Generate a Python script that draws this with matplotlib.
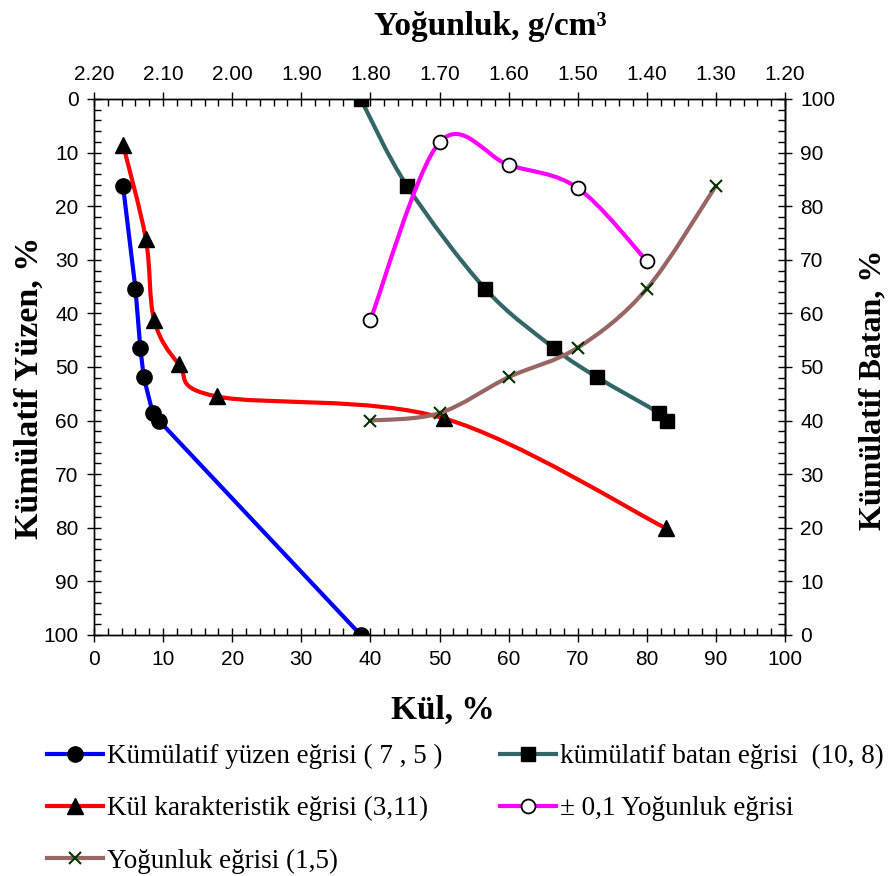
import matplotlib
matplotlib.use("Agg")
import matplotlib.pyplot as plt
import numpy as np
from matplotlib.lines import Line2D
from matplotlib.patches import PathPatch
from matplotlib.path import Path
from matplotlib.ticker import FormatStrFormatter, MultipleLocator

# Kümülatif yüzen (float): kül % vs cumulative float %
yuzen_kul = [4.2, 6.0, 6.7, 7.2, 8.5, 9.4, 38.6]
yuzen_pct = [16.2, 35.4, 46.4, 51.9, 58.6, 60.0, 100.0]

# Kümülatif batan (sink)
batan_kul = [38.6, 45.3, 56.6, 66.5, 72.8, 81.8, 82.9]
batan_pct = [0.0, 16.2, 35.4, 46.4, 51.9, 58.6, 60.0]

# Kül karakteristik eğrisi
karakteristik_kul = [4.2, 7.5, 8.7, 12.3, 17.8, 50.7, 82.8]
karakteristik_pct = [8.5, 26.1, 41.2, 49.5, 55.5, 59.6, 80.1]

# ± 0,1 yoğunluk (near-gravity) curve, against density on the top axis
yakin_yogunluk = [1.80, 1.70, 1.60, 1.50, 1.40]
yakin_pct = [41.2, 8.1, 12.3, 16.6, 30.2]

# Yoğunluk eğrisi
yogunluk = [1.80, 1.70, 1.60, 1.50, 1.40, 1.30]
yogunluk_pct = [60.0, 58.6, 51.9, 46.4, 35.4, 16.2]

W, H = 890, 876
SANS = "Liberation Sans"
SERIF = "Liberation Serif"
TICK_SIZE = 15

BLUE = "#0000ff"
TEAL = "#336666"
RED = "#ff0000"
MAGENTA = "#ff00ff"
BROWN = "#996666"
CROSS = "#003300"
LW = 3


def smooth_path(x, y):
    """Catmull-Rom style smoothed line as cubic bezier segments."""
    pts = np.column_stack([x, y]).astype(float)
    n = len(pts)
    verts = [pts[0]]
    codes = [Path.MOVETO]
    for i in range(n - 1):
        p0 = pts[i - 1] if i > 0 else pts[i]
        p1 = pts[i]
        p2 = pts[i + 1]
        p3 = pts[i + 2] if i + 2 < n else pts[i + 1]
        verts += [p1 + (p2 - p0) / 6, p2 - (p3 - p1) / 6, p2]
        codes += [Path.CURVE4] * 3
    return Path(verts, codes)


def draw_smooth(ax, x, y, color, z):
    patch = PathPatch(smooth_path(x, y), facecolor="none", edgecolor=color,
                      linewidth=LW, capstyle="round", joinstyle="round", zorder=z)
    ax.add_patch(patch)


def px_text(x, y, s, size, rotation=0):
    # place bold serif label by pixel position (from top-left)
    fig.text(x / W, 1 - y / H, s, family=SERIF, weight="bold", size=size,
             rotation=rotation, ha="center", va="center")


fig = plt.figure(figsize=(W / 100, H / 100), dpi=100)
ax = fig.add_axes([94 / W, 1 - 635 / H, 691 / W, 536 / H])

ax.set_xlim(0, 100)
ax.set_ylim(100, 0)

# float curve uses straight segments, the others are smoothed
ax.plot(yuzen_kul, yuzen_pct, color=BLUE, lw=LW, marker="o", ms=11,
        mfc="black", mec="black", zorder=3)

draw_smooth(ax, batan_kul, batan_pct, TEAL, 4)
ax.plot(batan_kul, batan_pct, ls="none", marker="s", ms=10,
        mfc="black", mec="black", zorder=4)

draw_smooth(ax, karakteristik_kul, karakteristik_pct, RED, 5)
ax.plot(karakteristik_kul, karakteristik_pct, ls="none", marker="^", ms=11,
        mfc="black", mec="black", zorder=5)

# density axis on top shares the left y scale
ax_top = ax.twiny()
ax_top.set_xlim(2.2, 1.2)
ax_top.set_ylim(100, 0)

draw_smooth(ax_top, yakin_yogunluk, yakin_pct, MAGENTA, 6)
ax_top.plot(yakin_yogunluk, yakin_pct, ls="none", marker="o", ms=10,
            mfc="white", mec="black", mew=1.3, zorder=6)

draw_smooth(ax_top, yogunluk, yogunluk_pct, BROWN, 7)
ax_top.plot(yogunluk, yogunluk_pct, ls="none", marker="x", ms=9,
            mec=CROSS, mew=1.5, zorder=7)

# right axis: cumulative sink = 100 - cumulative float
ax_right = ax.secondary_yaxis("right", functions=(lambda v: 100 - v, lambda v: 100 - v))

for a in (ax, ax_top):
    for s in a.spines.values():
        s.set_color("black")
        s.set_linewidth(1)

ax.xaxis.set_major_locator(MultipleLocator(10))
ax.xaxis.set_minor_locator(MultipleLocator(2))
ax.yaxis.set_major_locator(MultipleLocator(10))
ax.yaxis.set_minor_locator(MultipleLocator(2))
ax.xaxis.set_major_formatter(FormatStrFormatter("%d"))
ax.yaxis.set_major_formatter(FormatStrFormatter("%d"))
ax.tick_params(top=False, right=False, which="both")

ax_top.xaxis.set_major_locator(MultipleLocator(0.1))
ax_top.xaxis.set_minor_locator(MultipleLocator(0.02))
ax_top.xaxis.set_major_formatter(FormatStrFormatter("%.2f"))

ax_right.yaxis.set_major_locator(MultipleLocator(10))
ax_right.yaxis.set_minor_locator(MultipleLocator(2))
ax_right.yaxis.set_major_formatter(FormatStrFormatter("%d"))
ax_right.spines["right"].set_linewidth(1)

for a in (ax, ax_top, ax_right):
    a.tick_params(which="major", direction="inout", length=10, width=1,
                  labelsize=TICK_SIZE, pad=6)
    a.tick_params(which="minor", direction="in", length=5, width=1)
    for lab in a.get_xticklabels() + a.get_yticklabels():
        lab.set_fontfamily(SANS)

px_text(490, 26, "Yoğunluk, g/cm³", 24)
px_text(443, 710, "Kül, %", 24)
px_text(29, 388, "Kümülatif Yüzen, %", 24.5, rotation=90)
px_text(873, 390, "Kümülatif Batan, %", 23, rotation=90)

handles = [
    Line2D([], [], color=BLUE, lw=LW, marker="o", ms=11, mfc="black", mec="black"),
    Line2D([], [], color=RED, lw=LW, marker="^", ms=11, mfc="black", mec="black"),
    Line2D([], [], color=BROWN, lw=LW, marker="x", ms=9, mec=CROSS, mew=1.5),
    Line2D([], [], color=TEAL, lw=LW, marker="s", ms=10, mfc="black", mec="black"),
    Line2D([], [], color=MAGENTA, lw=LW, marker="o", ms=10, mfc="white", mec="black", mew=1.3),
]
labels = [
    "Kümülatif yüzen eğrisi ( 7 , 5 )",
    "Kül karakteristik eğrisi (3,11)",
    "Yoğunluk eğrisi (1,5)",
    "kümülatif batan eğrisi  (10, 8)",
    "± 0,1 Yoğunluk eğrisi",
]
fig.legend(handles, labels, loc="upper left", bbox_to_anchor=(47 / W, 1 - 744 / H),
           ncol=2, frameon=False, prop=dict(family=SERIF, size=19.5),
           handlelength=2.07, handletextpad=0.15, columnspacing=2.1,
           labelspacing=1.0, borderpad=0, borderaxespad=0)

fig.savefig("out.png", dpi=100)
